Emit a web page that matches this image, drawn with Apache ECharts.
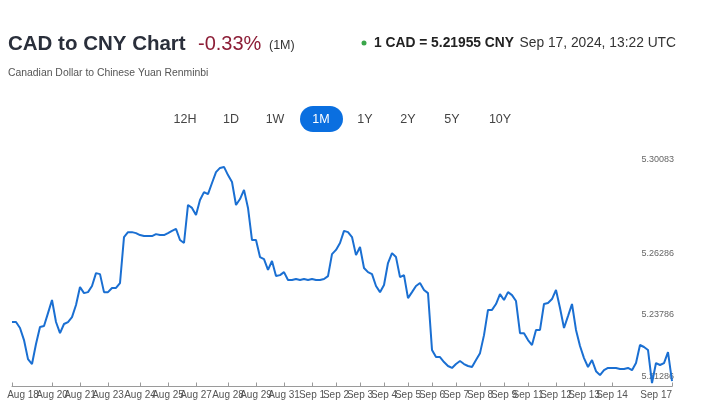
<!DOCTYPE html>
<html>
<head>
<meta charset="utf-8">
<script src="https://cdn.jsdelivr.net/npm/echarts@6/dist/echarts.min.js"></script>
<style>
  html, body { margin: 0; padding: 0; background: #fff; }
  #chart { width: 714px; height: 412px; }
</style>
</head>
<body>
<div id="chart"></div>
<script>
// CAD -> CNY over the last month, one reading per step along the axis
const rate = [
  5.2380, 5.2380, 5.2356, 5.2307, 5.2230, 5.2210, 5.2291, 5.2360, 5.2364, 5.2416,
  5.2469, 5.2380, 5.2335, 5.2372, 5.2380, 5.2400, 5.2449, 5.2522, 5.2497, 5.2501,
  5.2526, 5.2578, 5.2574, 5.2501, 5.2501, 5.2518, 5.2518, 5.2538, 5.2724, 5.2744,
  5.2744, 5.2740, 5.2732, 5.2728, 5.2728, 5.2728, 5.2736, 5.2732, 5.2732, 5.2740,
  5.2749, 5.2757, 5.2712, 5.2700, 5.2854, 5.2842, 5.2813, 5.2874, 5.2906, 5.2898,
  5.2943, 5.2987, 5.3004, 5.3008, 5.2975, 5.2947, 5.2854, 5.2878, 5.2915, 5.2842,
  5.2712, 5.2712, 5.2643, 5.2635, 5.2591, 5.2627, 5.2566, 5.2570, 5.2582, 5.2550,
  5.2550, 5.2554, 5.2550, 5.2554, 5.2550, 5.2554, 5.2550, 5.2550, 5.2554, 5.2566,
  5.2655, 5.2672, 5.2700, 5.2749, 5.2744, 5.2724, 5.2651, 5.2684, 5.2599, 5.2582,
  5.2574, 5.2526, 5.2501, 5.2530, 5.2619, 5.2659, 5.2643, 5.2562, 5.2570, 5.2477,
  5.2501, 5.2526, 5.2538, 5.2510, 5.2497, 5.2267, 5.2238, 5.2238, 5.2218, 5.2202,
  5.2194, 5.2210, 5.2222, 5.2210, 5.2202, 5.2198, 5.2226, 5.2254, 5.2327, 5.2429,
  5.2429, 5.2453, 5.2493, 5.2469, 5.2501, 5.2489, 5.2465, 5.2335, 5.2335, 5.2307,
  5.2287, 5.2348, 5.2348, 5.2453, 5.2457, 5.2473, 5.2510, 5.2437, 5.2356, 5.2404,
  5.2453, 5.2348, 5.2283, 5.2234, 5.2198, 5.2226, 5.2181, 5.2165, 5.2185, 5.2194,
  5.2194, 5.2194, 5.2190, 5.2190, 5.2194, 5.2185, 5.2214, 5.2287, 5.2279, 5.2267,
  5.2133, 5.2214, 5.2206, 5.2214, 5.2258, 5.2141
]

// where the date ticks sit (index into rate) and what they say
const tickIndex = [0, 10, 17, 24, 32, 39, 46, 54, 61, 68, 75, 81, 87, 93, 99, 105, 111, 117, 123, 129, 136, 143, 150, 165]
const tickLabels = ['Aug 18', 'Aug 20', 'Aug 21', 'Aug 23', 'Aug 24', 'Aug 25', 'Aug 27', 'Aug 28', 'Aug 29', 'Aug 31',
  'Sep 1', 'Sep 2', 'Sep 3', 'Sep 4', 'Sep 5', 'Sep 6', 'Sep 7', 'Sep 8', 'Sep 9', 'Sep 11', 'Sep 12', 'Sep 13', 'Sep 14', 'Sep 17']

const priceLabels = [5.21286, 5.23786, 5.26286, 5.30083]
const ranges = ['12H', '1D', '1W', '1M', '1Y', '2Y', '5Y', '10Y']
const activeRange = '1M'

const FONT = '"Liberation Sans", Arial, sans-serif'

let chart = echarts.init(document.getElementById('chart'))
chart.setOption(getOption())

function isTick(idx) {
  return tickIndex.indexOf(idx) !== -1
}

function dateLabel(v, idx) {
  return tickLabels[tickIndex.indexOf(idx)] || ''
}

function header() {
  let items = [
    { type: 'text', x: 8, y: 44, style: { text: 'CAD to CNY Chart', fontFamily: FONT, fontSize: 20.5, fontWeight: 'bold', fill: '#2a2f3b', verticalAlign: 'middle' } },
    { type: 'text', x: 198, y: 44, style: { text: '-0.33%', fontFamily: FONT, fontSize: 20, fill: '#8c1d36', verticalAlign: 'middle' } },
    { type: 'text', x: 269, y: 46, style: { text: '(1M)', fontFamily: FONT, fontSize: 12.5, fill: '#333', verticalAlign: 'middle' } },
    { type: 'text', x: 8, y: 73, style: { text: 'Canadian Dollar to Chinese Yuan Renminbi', fontFamily: FONT, fontSize: 10.4, fill: '#555', verticalAlign: 'middle' } },
    { type: 'circle', shape: { cx: 364, cy: 43, r: 2.5 }, style: { fill: '#3aa64a' } },
    { type: 'text', x: 374, y: 43, style: { text: '1 CAD = 5.21955 CNY', fontFamily: FONT, fontSize: 13.8, fontWeight: 'bold', fill: '#222', verticalAlign: 'middle' } },
    { type: 'text', x: 676, y: 43, style: { text: 'Sep 17, 2024, 13:22 UTC', fontFamily: FONT, fontSize: 13.8, fill: '#333', align: 'right', verticalAlign: 'middle' } }
  ]
  let xs = [185, 231, 275, 321, 365, 408, 452, 500]
  ranges.forEach((r, i) => {
    if (r === activeRange) {
      items.push({ type: 'rect', shape: { x: xs[i] - 21, y: 106, width: 43, height: 26, r: 13 }, style: { fill: '#0a6fe0' } })
    }
    items.push({
      type: 'text', x: xs[i], y: 120, z: 10,
      style: { text: r, fontFamily: FONT, fontSize: 12.5, fill: r === activeRange ? '#fff' : '#444', align: 'center', verticalAlign: 'middle' }
    })
  })
  return items
}

function getOption() {
  let labelStyle = { fontFamily: FONT, fontSize: 10, color: '#555', margin: 4 }
  return {
    backgroundColor: '#fff',
    animation: false,
    graphic: header(),
    grid: { left: 12, right: 42, top: 140, bottom: 25.5 },
    xAxis: [{
      // ticks and the date labels; the first slot gets a blank so the
      // min-label overlap check leaves "Aug 20" alone
      type: 'category',
      boundaryGap: false,
      data: rate.map((v, i) => i),
      axisLine: { lineStyle: { color: '#9a9a9a', width: 1 } },
      axisTick: { inside: true, length: 4, interval: isTick, lineStyle: { color: '#9a9a9a' } },
      axisLabel: Object.assign({
        interval: isTick,
        formatter: (v, idx) => idx === 0 ? '\u200b' : dateLabel(v, idx),
        showMinLabel: true,
        showMaxLabel: true,
        alignMaxLabel: 'right'
      }, labelStyle),
      splitLine: { show: false }
    }, {
      // only the first date, nudged so it starts just left of the axis
      type: 'category',
      position: 'bottom',
      boundaryGap: false,
      data: rate.map((v, i) => i),
      axisLine: { show: false },
      axisTick: { show: false },
      axisLabel: Object.assign({
        interval: idx => idx === 0,
        formatter: (v, idx) => '{a|' + dateLabel(v, idx) + '}',
        showMinLabel: true,
        align: 'center',
        rich: { a: { fontFamily: FONT, fontSize: 10, color: '#555', padding: [0, 0, 0, 22] } }
      }, labelStyle),
      splitLine: { show: false }
    }],
    yAxis: {
      type: 'value',
      position: 'right',
      min: 5.2119,
      max: 5.3117,
      axisLine: { show: false },
      axisTick: { show: false },
      splitLine: { show: false },
      axisLabel: {
        customValues: priceLabels,
        inside: true,
        margin: -2,
        verticalAlign: 'bottom',
        padding: [0, 0, 3, 0],
        fontFamily: FONT,
        fontSize: 9,
        color: '#666',
        formatter: v => v.toFixed(5)
      }
    },
    series: [{
      type: 'line',
      data: rate,
      showSymbol: false,
      lineStyle: { color: '#1a6fd2', width: 2 }
    }]
  }
}
</script>
</body>
</html>
